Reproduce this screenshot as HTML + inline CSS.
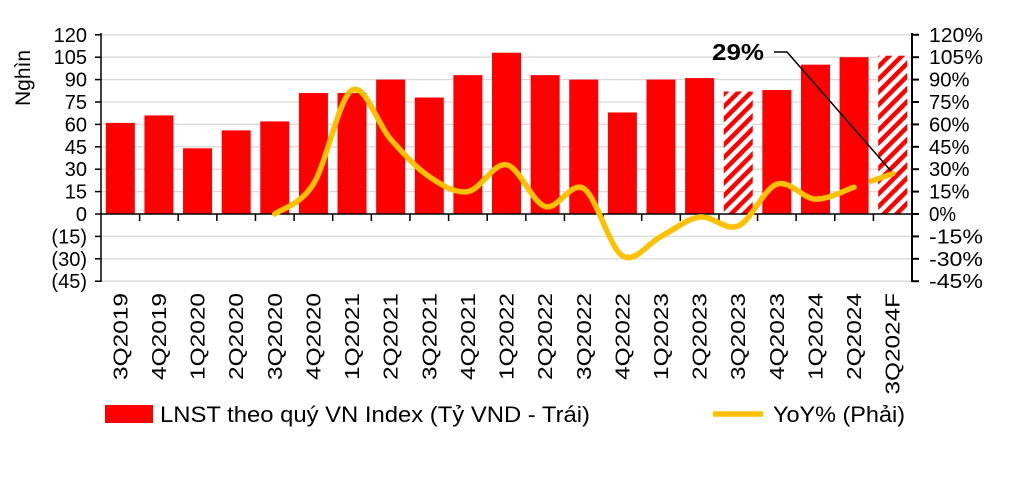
<!DOCTYPE html>
<html><head><meta charset="utf-8"><style>
body{margin:0;background:#fff;}
svg{display:block;font-family:"Liberation Sans",sans-serif;}
</style></head><body>
<svg id="s" width="1014" height="504" xmlns="http://www.w3.org/2000/svg">
<defs>
<pattern id="h" patternUnits="userSpaceOnUse" width="9" height="9" patternTransform="rotate(45)">
<rect width="9" height="9" fill="#fff"/><rect width="4.5" height="9" fill="#f00"/>
</pattern>
</defs>
<g id="g"></g>
</svg>
<script>
const g=document.getElementById('g');
const X0=101,W=38.62,Z=214,U=22.4/15;
let h='';
for(let v=-45;v<=120;v+=15){const y=Z-v*U;if(v!==0)h+=`<line x1="${X0}" x2="912" y1="${y}" y2="${y}" stroke="#d9d9d9" stroke-width="1.3"/>`;
h+=`<text x="87" y="${y+7}" font-size="20" text-anchor="end">${v<0?'('+(-v)+')':v}</text>`;
const t=v+'%';h+=`<text x="929" y="${y+7}" font-size="20" textLength="${t.length*13.5}" lengthAdjust="spacingAndGlyphs">${t}</text>`;
h+=`<line x1="912" x2="919" y1="${y}" y2="${y}" stroke="#000" stroke-width="2"/>`;}
const labs=['3Q2019','4Q2019','1Q2020','2Q2020','3Q2020','4Q2020','1Q2021','2Q2021','3Q2021','4Q2021','1Q2022','2Q2022','3Q2022','4Q2022','1Q2023','2Q2023','3Q2023','4Q2023','1Q2024','2Q2024','3Q2024F'];
const vals=[61,66,44,56,62,81,81,90,78,93,108,93,90,68,90,91,82,83,100,105,106];
labs.forEach((l,i)=>{const c=X0+W*(i+.5);const y=Z-vals[i]*U;
h+=`<rect x="${c-14.5}" y="${y}" width="29" height="${Z-y}" fill="${(i==16||i==20)?'url(#h)':'#f00'}"/>`;
h+=`<text transform="translate(${c+7},293) rotate(-90)" font-size="20" text-anchor="end" textLength="${l.length*14.5}" lengthAdjust="spacingAndGlyphs">${l}</text>`;
h+=`<line x1="${X0+W*(i+1)}" x2="${X0+W*(i+1)}" y1="${Z}" y2="${Z+7}" stroke="#000" stroke-width="1.5"/>`;});
h+=`<line x1="${X0}" x2="912" y1="${Z}" y2="${Z}" stroke="#000" stroke-width="1.5"/>`;
h+=`<line x1="${X0}" x2="${X0}" y1="33" y2="282" stroke="#000" stroke-width="1.5"/>`;
h+=`<line x1="912" x2="912" y1="33" y2="282" stroke="#000" stroke-width="2"/>`;
for(let v=-45;v<=120;v+=15){const y=Z-v*U;h+=`<line x1="${X0-6}" x2="${X0}" y1="${y}" y2="${y}" stroke="#000" stroke-width="1.5"/>`;}
const yoy=[null,null,null,null,0,20,83,50,25,15,33,5,17,-28,-15,-2,-8,20,10,18,27];
const pts=[];yoy.forEach((v,i)=>{if(v!==null)pts.push([X0+W*(i+.5),Z-v*U]);});
function seg(p){let d=`M${p[0][0]},${p[0][1]}`;for(let i=0;i<p.length-1;i++){const a=p[i-1]||p[i],b=p[i],c=p[i+1],e=p[i+2]||c;
d+=`C${b[0]+(c[0]-a[0])/6},${b[1]+(c[1]-a[1])/6} ${c[0]-(e[0]-b[0])/6},${c[1]-(e[1]-b[1])/6} ${c[0]},${c[1]}`;}return d;}
const main=pts.slice(0,pts.length-1);
h+=`<path d="${seg(main)}" fill="none" stroke="#FFC000" stroke-width="5.5" stroke-linecap="round"/>`;
const a=pts[pts.length-2],b=pts[pts.length-1];
h+=`<line x1="${a[0]+(b[0]-a[0])*0.45}" y1="${a[1]+(b[1]-a[1])*0.45}" x2="${b[0]}" y2="${b[1]}" stroke="#FFC000" stroke-width="5.5" stroke-linecap="round"/>`;
h+=`<text x="712" y="60" font-size="23" font-weight="bold" textLength="52" lengthAdjust="spacingAndGlyphs">29%</text>`;
h+=`<polyline points="774,52 787,52 891,171" fill="none" stroke="#000" stroke-width="1.5"/>`;
h+=`<text transform="translate(30,78) rotate(-90)" font-size="21" text-anchor="middle">Nghìn</text>`;
h+=`<rect x="105" y="405" width="48" height="18" fill="#f00"/>`;
h+=`<text x="160" y="422" font-size="22" textLength="430" lengthAdjust="spacingAndGlyphs">LNST theo quý VN Index (Tỷ VND - Trái)</text>`;
h+=`<line x1="713" x2="763" y1="414" y2="414" stroke="#FFC000" stroke-width="5.5"/>`;
h+=`<text x="773" y="422" font-size="22" textLength="132" lengthAdjust="spacingAndGlyphs">YoY% (Phải)</text>`;
g.innerHTML=h;
</script>
</body></html>
